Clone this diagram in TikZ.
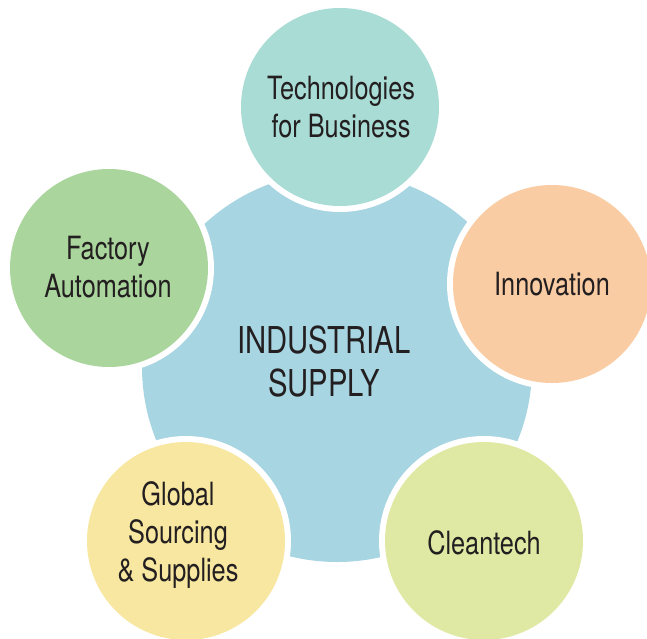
\documentclass[tikz,border=0pt]{standalone}
\usepackage{fontspec}
\setmainfont{TeX Gyre Heros}[FakeStretch=0.79]
\definecolor{cblue}{HTML}{A7D5E2}
\definecolor{cteal}{HTML}{A8DCD5}
\definecolor{cpeach}{HTML}{F9CCA3}
\definecolor{clime}{HTML}{E0E9A3}
\definecolor{cyellow}{HTML}{F7E7A0}
\definecolor{cgreen}{HTML}{AAD59D}
\definecolor{ctext}{HTML}{231F20}
\tikzset{
  outer/.style={text=ctext, align=center, inner sep=0pt, font=\fontsize{32pt}{38pt}\selectfont},
  center/.style={text=ctext, align=center, inner sep=0pt, font=\fontsize{37pt}{43pt}\selectfont},
}
\begin{document}
\begin{tikzpicture}[x=1pt,y=-1pt]
\useasboundingbox (0,0) rectangle (647,638);
% central circle
\fill[cblue] (337,367) circle[radius=195pt];
% outer circles with white rims
\foreach \cx/\cy/\col in {340/107/cteal, 552/284/cpeach, 484/541/clime, 186/541/cyellow, 109/268/cgreen}{
  \fill[white] (\cx,\cy) circle[radius=105pt];
  \fill[\col] (\cx,\cy) circle[radius=99pt];
}
\node[center] (hub) at (324,362) {INDUSTRIAL\\SUPPLY};
\node[outer] (tech) at (341,107) {Technologies\\for Business};
\node[outer] (inno) at (552,284) {Innovation};
\node[outer] (clean) at (484,543) {Cleantech};
\node[outer] (glob) at (178,535) {Global\\Sourcing\\\& Supplies};
\node[outer] (fact) at (108,267) {Factory\\Automation};
\end{tikzpicture}
\end{document}
